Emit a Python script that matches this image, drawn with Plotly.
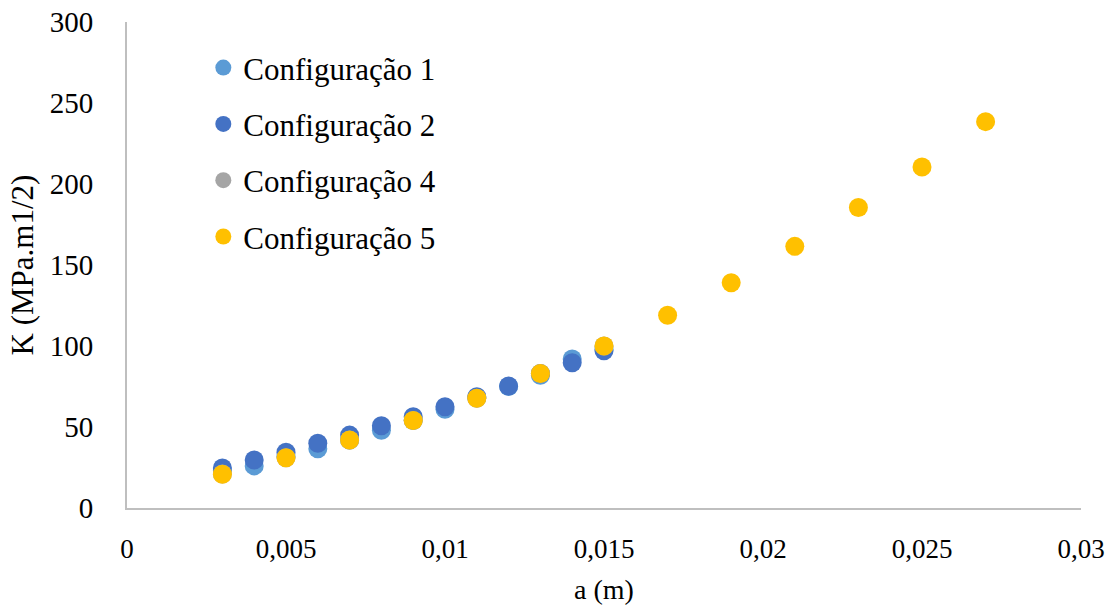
import plotly.graph_objects as go

# Data
a_c1 = [0.003, 0.004, 0.005, 0.006, 0.007, 0.008, 0.009, 0.010, 0.011, 0.012, 0.013, 0.014, 0.015]
k_c1 = [23, 26, 32, 36.5, 42, 48, 54, 61, 68, 75, 82, 92, 98]

a_c2 = [0.003, 0.004, 0.005, 0.006, 0.007, 0.008, 0.009, 0.010, 0.011, 0.012, 0.013, 0.014, 0.015]
k_c2 = [24.7, 29.6, 34.4, 40, 45, 50.8, 56.4, 62.5, 68.7, 75.3, 83, 89.7, 97]

a_c4 = [0.003, 0.005, 0.007, 0.009, 0.011, 0.013, 0.015]
k_c4 = [21, 31, 42, 54, 67.7, 83, 100]

a_c5 = [0.003, 0.005, 0.007, 0.009, 0.011, 0.013, 0.015, 0.017, 0.019, 0.021, 0.023, 0.025, 0.027]
k_c5 = [20.8, 31, 42, 54, 67.7, 83, 100, 119, 139, 161.5, 185.5, 210.5, 238.5]

names = ["Configuração 1", "Configuração 2", "Configuração 4", "Configuração 5"]
colors = ["#5B9BD5", "#4472C4", "#A5A5A5", "#FFC000"]
series = [(a_c1, k_c1), (a_c2, k_c2), (a_c4, k_c4), (a_c5, k_c5)]

FONT = "Liberation Serif, Times New Roman, serif"

fig = go.Figure()
for i, ((xs, ys), nm, col) in enumerate(zip(series, names, colors)):
    fig.add_trace(go.Scatter(
        x=xs, y=ys, mode="markers", name=nm, legendgroup=f"g{i}",
        marker=dict(color=col, size=19, line=dict(width=0)),
    ))

fig.update_layout(
    width=1115, height=610,
    margin=dict(l=127, r=34, t=22, b=102, autoexpand=False),
    paper_bgcolor="white", plot_bgcolor="white",
    separators=",.",
    font=dict(family=FONT, size=28, color="black"),
    showlegend=True,
    legend=dict(
        x=0.08, y=0.961, xanchor="left", yanchor="top",
        font=dict(family=FONT, size=31, color="black"),
        bgcolor="rgba(0,0,0,0)", tracegroupgap=13,
        itemwidth=30,
    ),
    xaxis=dict(
        range=[0, 0.03], dtick=0.005, tick0=0,
        showgrid=False, zeroline=False, automargin=False,
        showline=True, linecolor="#BFBFBF", linewidth=2,
        ticks="", ticklabelstandoff=16,
        tickfont=dict(family=FONT, size=27, color="black"),
        title=dict(text="a (m)", font=dict(family=FONT, size=28, color="black"), standoff=16),
    ),
    yaxis=dict(
        range=[0, 300], dtick=50,
        showgrid=False, zeroline=False, automargin=False,
        showline=True, linecolor="#BFBFBF", linewidth=2,
        ticks="", ticklabelstandoff=26,
        tickfont=dict(family=FONT, size=29, color="black"),
        title=dict(text="K (MPa.m1/2)", font=dict(family=FONT, size=31, color="black"), standoff=7),
    ),
)

fig.write_html("out.html")
